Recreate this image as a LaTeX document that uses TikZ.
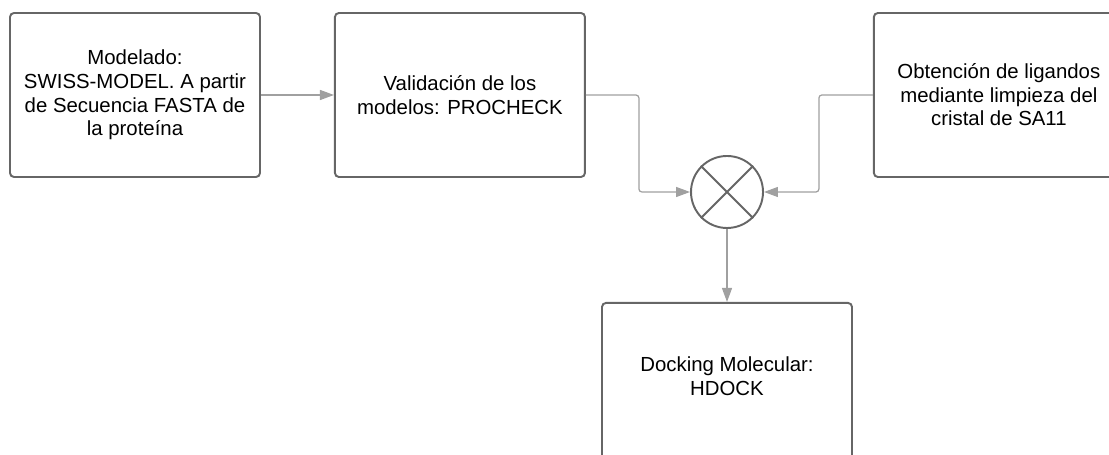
\documentclass[tikz,border=0pt]{standalone}
\usepackage{fontspec}
\setmainfont{Liberation Sans}
\usetikzlibrary{positioning, arrows.meta}

\definecolor{boxgray}{HTML}{666666}
\definecolor{linkgray}{HTML}{A0A0A0}

\begin{document}
\begin{tikzpicture}[font=\fontsize{11.6}{13.4}\selectfont,
    box/.style={draw=boxgray, line width=1.1pt, rounded corners=0.08cm,
                minimum width=5cm, minimum height=3.28cm, align=center},
    link/.style={draw=linkgray, line width=0.7pt, rounded corners=0.06cm,
                 -{Triangle[length=0.28cm,width=0.2cm]}}]
    % frame of the picture
    \useasboundingbox (0,0) rectangle (22.18,9.10);
    \clip (0,0) rectangle (22.18,9.10);
    % Add the boxes
        \node[box] (mod) at (2.70,7.20)
              {Modelado:\\SWISS-MODEL. A partir\\de Secuencia FASTA de\\la proteína};
        \node[box,
              right=1.46cm of mod] (val)
              {Validación de los\\modelos: PROCHECK};
        \node[box,
              right=5.74cm of val] (lig)
              {Obtención de ligandos\\mediante limpieza del\\cristal de SA11};
        \node[circle,
              draw=boxgray,
              line width=1.1pt,
              minimum size=1.44cm,
              inner sep=0pt] (sum) at (14.54,5.26) {};
        \draw[boxgray, line width=1.1pt]
            (sum.45) -- (sum.225)
            (sum.135) -- (sum.315);
        \node[box,
              text depth=0.36cm,
              below=1.46cm of sum] (dock)
              {Docking Molecular:\\HDOCK};

    % Add the connectors
        \draw[link] (mod) -- (val);
        \draw[link] (val.east) -- ++(1.06,0) |- (sum.west);
        \draw[link] (lig.west) -- ++(-1.08,0) |- (sum.east);
        \draw[link] (sum) -- (dock);
\end{tikzpicture}
\end{document}
